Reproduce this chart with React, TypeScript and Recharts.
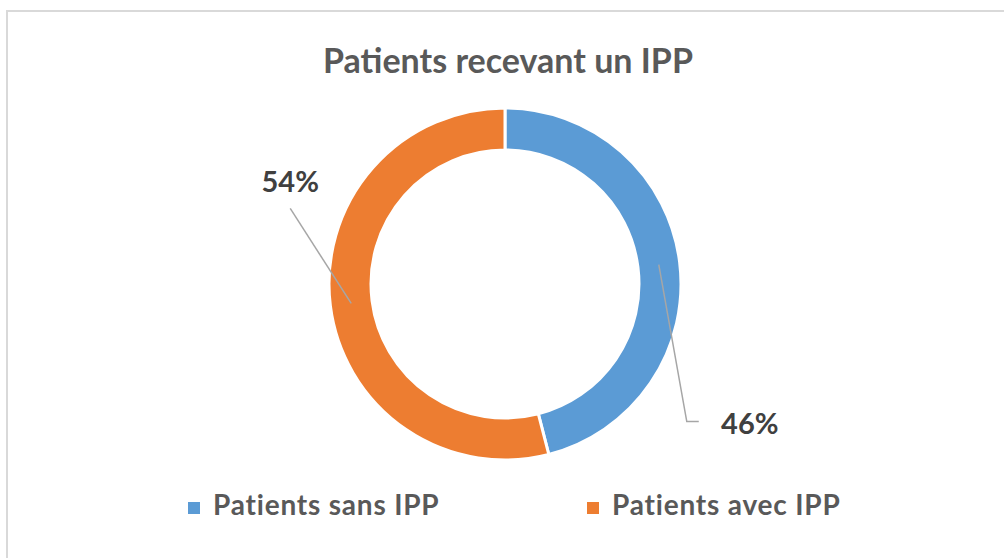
import { PieChart, Pie, Cell } from "recharts";

const categories = ["Patients sans IPP", "Patients avec IPP"];
const shares = [46, 54];
const colors = ["#5B9BD5", "#ED7D31"];
const title = "Patients recevant un IPP";

const data = categories.map((name, i) => ({ name, value: shares[i] }));

const RAD = Math.PI / 180;
const FONT = "Lato, sans-serif";

// leader line / text placement, relative to the slice mid point (Excel's manual label positions)
function renderLabel(props: any) {
    const { cx, cy, midAngle, innerRadius, outerRadius, index, value } = props;
    const r = (innerRadius + outerRadius) / 2;
    const mx = cx + r * Math.cos(-midAngle * RAD);
    const my = cy + r * Math.sin(-midAngle * RAD);
    let points: string;
    let tx: number;
    let ty: number;
    if (index === 0) {
        points = `${mx},${my} ${mx + 28},${my + 157} ${mx + 40},${my + 157}`;
        tx = mx + 91;
        ty = my + 169;
    } else {
        points = `${mx},${my} ${mx - 61},${my - 95}`;
        tx = mx - 61;
        ty = my - 111;
    }
    return (
        <g>
            <polyline points={points} fill="none" stroke="#A6A6A6" strokeWidth={1.5} />
            <text
                x={tx}
                y={ty}
                textAnchor="middle"
                fill="#404040"
                fontSize={29}
                fontWeight={700}
                fontFamily={FONT}
            >
                {value}%
            </text>
        </g>
    );
}

const legendX = [188, 587];

export default function App() {
    return (
        <div style={{ position: "absolute", left: 0, top: 0, width: 1004, height: 558, background: "#fff", overflow: "hidden" }}>
            <div
                style={{
                    position: "absolute",
                    left: 6,
                    top: 10,
                    width: 1010,
                    height: 560,
                    border: "2px solid #D9D9D9",
                    boxSizing: "border-box"
                }}
            />
            <div style={{ position: "absolute", left: 0, top: 0 }}>
                <PieChart width={1004} height={558} margin={{ top: 0, right: 0, bottom: 0, left: 0 }}>
                    <Pie
                        data={data}
                        dataKey="value"
                        nameKey="name"
                        cx={505}
                        cy={284}
                        outerRadius={176}
                        innerRadius={134}
                        startAngle={90}
                        endAngle={-270}
                        stroke="#ffffff"
                        strokeWidth={3}
                        label={renderLabel}
                        labelLine={false}
                        isAnimationActive={false}
                    >
                        {data.map((d, i) => (
                            <Cell key={d.name} fill={colors[i]} />
                        ))}
                    </Pie>
                </PieChart>
            </div>
            <svg width={1004} height={558} style={{ position: "absolute", left: 0, top: 0, pointerEvents: "none" }}>
                <text x={508} y={73} textAnchor="middle" fill="#595959" fontSize={34} fontWeight={700} fontFamily={FONT}>
                    {title}
                </text>
                {categories.map((c, i) => (
                    <g key={c}>
                        <rect x={legendX[i]} y={502} width={12} height={12} fill={colors[i]} />
                        <text
                            x={legendX[i] + 25}
                            y={515}
                            fill="#595959"
                            fontSize={28}
                            fontWeight={700}
                            letterSpacing={0.8}
                            fontFamily={FONT}
                        >
                            {c}
                        </text>
                    </g>
                ))}
            </svg>
        </div>
    );
}
